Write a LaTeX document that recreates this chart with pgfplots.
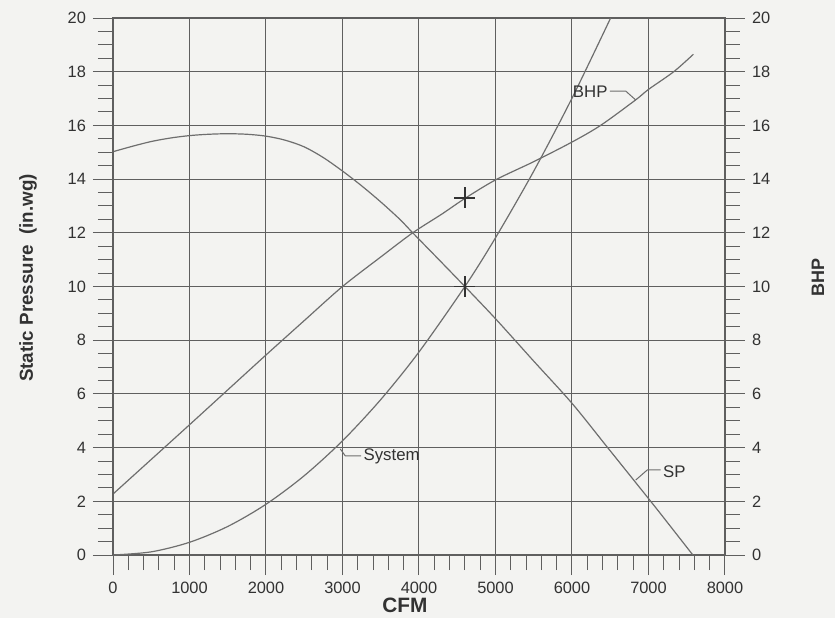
\documentclass[border=0pt]{standalone}
\usepackage{pgfplots}
\pgfplotsset{compat=1.18}
\usepackage{fontspec}
\setmainfont{Liberation Sans}
\definecolor{paper}{RGB}{243,243,241}
\definecolor{ink}{RGB}{50,50,50}
\definecolor{gridc}{RGB}{95,95,95}
\definecolor{curve}{RGB}{110,110,110}
\begin{document}
\begin{tikzpicture}
\path[use as bounding box, fill=paper] (-56.5pt,-31.5pt) rectangle (361pt,277.5pt);
\begin{axis}[
  name=main,
  scale only axis, width=306pt, height=268.5pt,
  xmin=0, xmax=8000, ymin=0, ymax=20,
  xtick={0,1000,...,8000}, ytick={0,2,...,20},
  minor x tick num=4, minor y tick num=3,
  xtick pos=left, ytick pos=left,
  tick align=outside,
  major tick length=10pt, minor tick length=7.5pt,
  grid=major,
  major grid style={gridc, line width=0.5pt},
  every tick/.style={gridc, line width=0.5pt},
  axis line style={gridc, line width=0.6pt},
  scaled x ticks=false,
  xticklabel style={/pgf/number format/1000 sep={}},
  /pgf/number format/assume math mode=true,
  tick label style={font=\fontsize{8.2}{10}\selectfont, text=ink},
  xlabel={\bfseries CFM},
  xlabel style={at={(axis description cs:0.477,0)}, anchor=center, yshift=-25pt, font=\fontsize{10.4}{12}\selectfont, text=ink},
  ylabel={\bfseries Static Pressure\ \ (in.wg)},
  ylabel style={at={(axis description cs:-0.1389,0.516)}, anchor=center, font=\fontsize{9.4}{11}\selectfont, text=ink},
  clip=true,
]
% SP (fan curve)
\addplot[curve, line width=0.6pt, smooth] coordinates {
(0,15.02)(250,15.22)(500,15.4)(750,15.53)(1000,15.62)(1250,15.67)(1500,15.69)(1750,15.67)(2000,15.6)(2250,15.45)(2500,15.2)(2750,14.8)(3000,14.3)(3250,13.75)(3500,13.15)(3750,12.5)(3918,12)(4250,11.03)(4600,10)(5000,8.8)(5500,7.22)(6000,5.65)(6466,4.0)(7029,2.0)(7300,1.02)(7580,0)};
% BHP
\addplot[curve, line width=0.6pt, smooth] coordinates {
(0,2.27)(500,3.56)(1000,4.85)(1500,6.15)(2000,7.45)(2500,8.73)(3000,10.0)(3500,11.1)(3918,12.0)(4300,12.7)(4600,13.28)(5000,13.97)(5500,14.65)(6000,15.38)(6374,16.0)(6832,16.95)(7000,17.34)(7330,18.0)(7587,18.65)};
% System
\addplot[curve, line width=0.6pt, smooth] coordinates {
(0,0)(500,0.118)(1000,0.473)(1500,1.063)(2000,1.890)(2500,2.954)(3000,4.253)(3500,5.789)(4000,7.562)(4600,10.0)(5000,11.815)(5500,14.296)(6000,17.014)(6505,20.0)};
% operating points
\addplot[only marks, mark=+, mark size=5.2pt, mark options={ink, line width=0.7pt}] coordinates {(4600,13.3)(4600,10)};
% leaders and labels
\draw[curve, line width=0.5pt] (axis cs:2971,3.95) -- (axis cs:3037,3.69) -- (axis cs:3245,3.69);
\node[anchor=west, inner sep=1pt, text=ink, font=\fontsize{8.4}{10}\selectfont] at (axis cs:3245,3.69) {System};
\draw[curve, line width=0.5pt] (axis cs:6832,2.79) -- (axis cs:6985,3.17) -- (axis cs:7160,3.17);
\node[anchor=west, inner sep=1pt, text=ink, font=\fontsize{8.4}{10}\selectfont] at (axis cs:7160,3.12) {SP};
\draw[curve, line width=0.5pt] (axis cs:6832,16.95) -- (axis cs:6702,17.28) -- (axis cs:6495,17.28);
\node[anchor=east, inner sep=1pt, text=ink, font=\fontsize{8.4}{10}\selectfont] at (axis cs:6495,17.26) {BHP};
\end{axis}
\begin{axis}[
  scale only axis, width=306pt, height=268.5pt,
  xmin=0, xmax=8000, ymin=0, ymax=20,
  hide x axis,
  ytick={0,2,...,20}, minor y tick num=3,
  ytick pos=right, yticklabel pos=right,
  tick align=outside,
  major tick length=10pt, minor tick length=7.5pt,
  every tick/.style={gridc, line width=0.5pt},
  axis line style={gridc, line width=0.6pt},
  /pgf/number format/assume math mode=true,
  tick label style={font=\fontsize{8.2}{10}\selectfont, text=ink},
  ylabel={\bfseries BHP},
  ylabel style={at={(axis description cs:1.152,0.516)}, anchor=center, font=\fontsize{9}{10}\selectfont, text=ink},
]
\end{axis}
\end{tikzpicture}
\end{document}
